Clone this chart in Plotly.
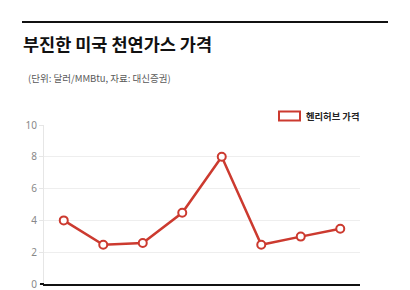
import plotly.graph_objects as go

categories = ["1", "2", "3", "4", "5", "6", "7", "8"]
prices = [4.0, 2.47, 2.58, 4.48, 8.0, 2.47, 2.98, 3.48]
series_name = "헨리허브 가격"
title = "부진한 미국 천연가스 가격"
subtitle = "(단위: 달러/MMBtu, 자료: 대신증권)"
yticks = [0, 2, 4, 6, 8, 10]

RED = "#cc3a2f"
W, H = 410, 290
ml, mr, mt, mb = 44, 50, 125, 6

fig = go.Figure()
fig.add_trace(go.Scatter(
    x=categories, y=prices, mode="lines+markers", name=series_name,
    line=dict(color=RED, width=2.5),
    marker=dict(size=8, color="white", line=dict(color=RED, width=2)),
    showlegend=False, cliponaxis=False,
))

def px(x):
    return (x - ml) / (W - ml - mr)

def py(y):
    return (H - mb - y) / (H - mt - mb)

shapes = [
    dict(type="line", xref="paper", yref="paper", x0=px(22), x1=px(388), y0=py(22), y1=py(22),
         line=dict(color="#111", width=2)),
    dict(type="rect", xref="paper", yref="paper", x0=px(279), x1=px(300), y0=py(111.5), y1=py(120.5),
         line=dict(color=RED, width=2), fillcolor="white"),
    dict(type="line", xref="paper", yref="paper", x0=px(40), x1=px(44), y0=0, y1=0,
         line=dict(color="#111", width=2)),
]
annotations = [
    dict(text="<b>" + title + "</b>", xref="paper", yref="paper", x=px(21), y=py(44),
         xanchor="left", yanchor="middle", showarrow=False,
         font=dict(family="Noto Sans CJK KR", size=17.5, color="#111")),
    dict(text=subtitle, xref="paper", yref="paper", x=px(26), y=py(78),
         xanchor="left", yanchor="middle", showarrow=False,
         font=dict(family="Noto Sans CJK KR", size=9.5, color="#5a5a5a")),
    dict(text="<b>" + series_name + "</b>", xref="paper", yref="paper", x=px(304), y=py(116),
         xanchor="left", yanchor="middle", showarrow=False,
         font=dict(family="Noto Sans CJK KR", size=9.3, color="#222")),
]

fig.update_layout(
    width=W, height=H, margin=dict(l=ml, r=mr, t=mt, b=mb, autoexpand=False),
    paper_bgcolor="white", plot_bgcolor="white",
    shapes=shapes, annotations=annotations,
    font=dict(family="Noto Sans CJK KR"),
    xaxis=dict(type="category", range=[-0.5, 7.5], showticklabels=False, showgrid=False,
               showline=True, linecolor="#111", linewidth=2, zeroline=False, fixedrange=True,
               automargin=False),
    yaxis=dict(range=[0, 10], tickvals=yticks, showgrid=True, gridcolor="#eeeeee", gridwidth=1,
               showline=True, linecolor="#e6e6e6", linewidth=1, zeroline=False,
               ticks="outside", ticklen=4, tickcolor="#e6e6e6", ticklabeloverflow="allow",
               automargin=False,
               tickfont=dict(family="Noto Sans", size=10, color="#888")),
)

fig.write_html("out.html")
